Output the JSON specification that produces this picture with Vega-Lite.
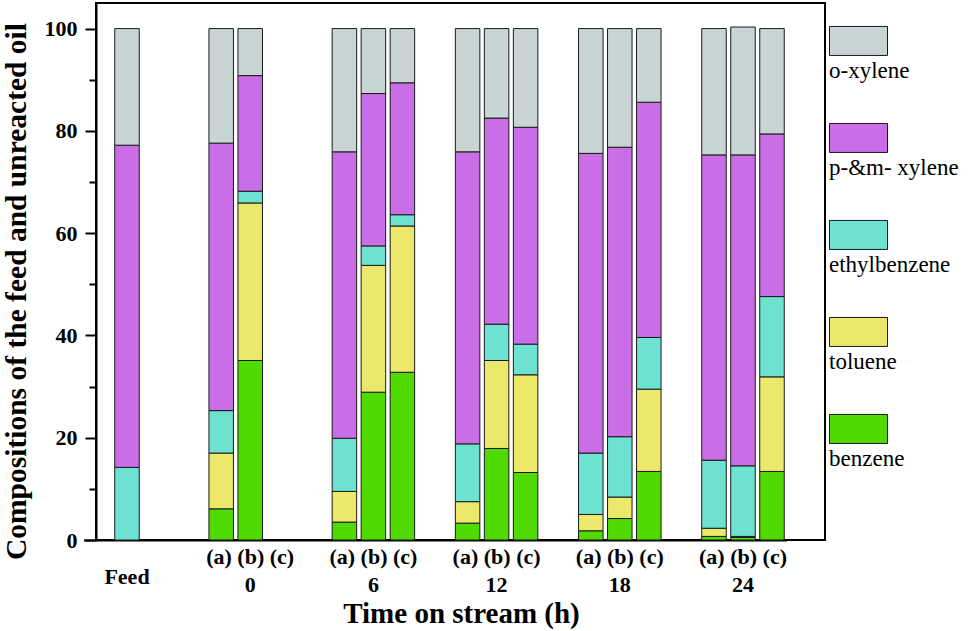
{
  "$schema": "https://vega.github.io/schema/vega-lite/v6.json",
  "width": 729,
  "height": 537,
  "autosize": {"type": "none"},
  "padding": {"left": 96, "top": 3, "right": 144, "bottom": 91},
  "data": {
    "values": [
      {"time": "Feed", "run": "b", "benzene": 0, "toluene": 0, "ethylbenzene": 14.2, "p-&m- xylene": 63.0, "o-xylene": 22.8},
      {"time": "0", "run": "a", "benzene": 6.1, "toluene": 10.9, "ethylbenzene": 8.3, "p-&m- xylene": 52.3, "o-xylene": 22.4},
      {"time": "0", "run": "b", "benzene": 35.1, "toluene": 30.8, "ethylbenzene": 2.3, "p-&m- xylene": 22.6, "o-xylene": 9.2},
      {"time": "6", "run": "a", "benzene": 3.5, "toluene": 6.0, "ethylbenzene": 10.4, "p-&m- xylene": 56.0, "o-xylene": 24.1},
      {"time": "6", "run": "b", "benzene": 28.9, "toluene": 24.8, "ethylbenzene": 3.8, "p-&m- xylene": 29.8, "o-xylene": 12.7},
      {"time": "6", "run": "c", "benzene": 32.8, "toluene": 28.6, "ethylbenzene": 2.2, "p-&m- xylene": 25.8, "o-xylene": 10.6},
      {"time": "12", "run": "a", "benzene": 3.3, "toluene": 4.2, "ethylbenzene": 11.3, "p-&m- xylene": 57.1, "o-xylene": 24.1},
      {"time": "12", "run": "b", "benzene": 17.9, "toluene": 17.2, "ethylbenzene": 7.1, "p-&m- xylene": 40.3, "o-xylene": 17.5},
      {"time": "12", "run": "c", "benzene": 13.2, "toluene": 19.1, "ethylbenzene": 6.0, "p-&m- xylene": 42.4, "o-xylene": 19.3},
      {"time": "18", "run": "a", "benzene": 1.8, "toluene": 3.2, "ethylbenzene": 12.0, "p-&m- xylene": 58.6, "o-xylene": 24.4},
      {"time": "18", "run": "b", "benzene": 4.2, "toluene": 4.2, "ethylbenzene": 11.8, "p-&m- xylene": 56.6, "o-xylene": 23.2},
      {"time": "18", "run": "c", "benzene": 13.4, "toluene": 16.1, "ethylbenzene": 10.1, "p-&m- xylene": 46.0, "o-xylene": 14.4},
      {"time": "24", "run": "a", "benzene": 0.7, "toluene": 1.6, "ethylbenzene": 13.3, "p-&m- xylene": 59.7, "o-xylene": 24.7},
      {"time": "24", "run": "b", "benzene": 0.5, "toluene": 0.2, "ethylbenzene": 13.8, "p-&m- xylene": 60.8, "o-xylene": 25.0},
      {"time": "24", "run": "c", "benzene": 13.4, "toluene": 18.5, "ethylbenzene": 15.7, "p-&m- xylene": 31.8, "o-xylene": 20.6}
    ]
  },
  "transform": [
    {"fold": ["benzene", "toluene", "ethylbenzene", "p-&m- xylene", "o-xylene"], "as": ["component", "value"]},
    {"filter": "datum.value > 0"},
    {"calculate": "indexof(['benzene', 'toluene', 'ethylbenzene', 'p-&m- xylene', 'o-xylene'], datum.component)", "as": "stack_rank"}
  ],
  "layer": [
    {
      "mark": {"type": "bar", "stroke": "#1a1a1a", "strokeWidth": 1},
      "encoding": {
        "x": {
          "field": "time",
          "type": "nominal",
          "title": "Time on stream (h)",
          "scale": {
            "domain": ["Feed", "0", "6", "12", "18", "24"],
            "range": [-12.5, 690.5],
            "paddingInner": 0.2938,
            "paddingOuter": 0
          },
          "axis": {
            "ticks": false,
            "tickSize": 0,
            "domainColor": "black",
            "domainWidth": 2,
            "labelAngle": 0,
            "labelOverlap": false,
            "labelExpr": "datum.value == 'Feed' ? 'Feed' : ['(a) (b) (c)', datum.label]",
            "labelFont": "Liberation Serif",
            "labelFontWeight": "bold",
            "labelFontSize": 22,
            "labelColor": "black",
            "labelBaseline": "alphabetic",
            "labelLineHeight": 28,
            "labelPadding": {"condition": {"test": "datum.value == 'Feed'", "value": 43}, "value": 23},
            "titleFont": "Liberation Serif",
            "titleFontWeight": "bold",
            "titleFontSize": 29,
            "titleColor": "black",
            "titleX": 365,
            "titleY": 82,
            "titleAlign": "center",
            "titleBaseline": "alphabetic"
          }
        },
        "xOffset": {
          "field": "run",
          "type": "nominal",
          "scale": {"domain": ["a", "b", "c"], "paddingInner": 0.155, "paddingOuter": 0.0775}
        },
        "y": {
          "field": "value",
          "type": "quantitative",
          "stack": "zero",
          "title": "Compositions of the feed and unreacted oil",
          "scale": {"domain": [0, 105], "nice": false},
          "axis": {
            "values": [0, 20, 40, 60, 80, 100],
            "grid": false,
            "tickSize": 11,
            "tickWidth": 2,
            "tickColor": "black",
            "domainColor": "black",
            "domainWidth": 2,
            "labelFont": "Liberation Serif",
            "labelFontWeight": "bold",
            "labelFontSize": 22,
            "labelColor": "black",
            "labelPadding": 8,
            "titleFont": "Liberation Serif",
            "titleFontWeight": "bold",
            "titleFontSize": 29.5,
            "titleColor": "black",
            "titleAngle": -90,
            "titleAlign": "center",
            "titleBaseline": "alphabetic",
            "titleX": -71,
            "titleY": 288
          }
        },
        "color": {
          "field": "component",
          "type": "nominal",
          "scale": {
            "domain": ["o-xylene", "p-&m- xylene", "ethylbenzene", "toluene", "benzene"],
            "range": ["#c9d4d4", "#c96ee6", "#6ee2d1", "#ebe86c", "#50da00"]
          },
          "legend": {
            "orient": "none",
            "legendX": 733,
            "legendY": 27,
            "title": null,
            "padding": 0,
            "symbolType": "M-1,-1.14H1V-0.14H-1Z",
            "symbolSize": 3364,
            "symbolStrokeColor": "#1a1a1a",
            "symbolStrokeWidth": 1,
            "symbolOpacity": 1,
            "labelExpr": "datum.label == 'p-&m- xylene' ? '\u00a0p-&m- xylene' : datum.label",
            "labelFont": "Liberation Serif",
            "labelFontSize": 23,
            "labelColor": "black",
            "labelOffset": -59,
            "labelBaseline": "top",
            "labelLimit": 200,
            "rowPadding": 38
          }
        },
        "order": {"field": "stack_rank", "type": "quantitative"}
      }
    },
    {
      "mark": {"type": "tick", "opacity": 0},
      "encoding": {
        "y": {
          "datum": 0,
          "type": "quantitative",
          "scale": {"domain": [0, 105], "nice": false},
          "axis": {
            "orient": "left",
            "values": [10, 30, 50, 70, 90],
            "labels": false,
            "domain": false,
            "grid": false,
            "tickSize": 7,
            "tickWidth": 2,
            "tickColor": "black",
            "title": null
          }
        }
      }
    }
  ],
  "resolve": {"axis": {"y": "independent"}},
  "config": {
    "font": "Liberation Serif",
    "view": {"stroke": "black", "strokeWidth": 2}
  }
}
